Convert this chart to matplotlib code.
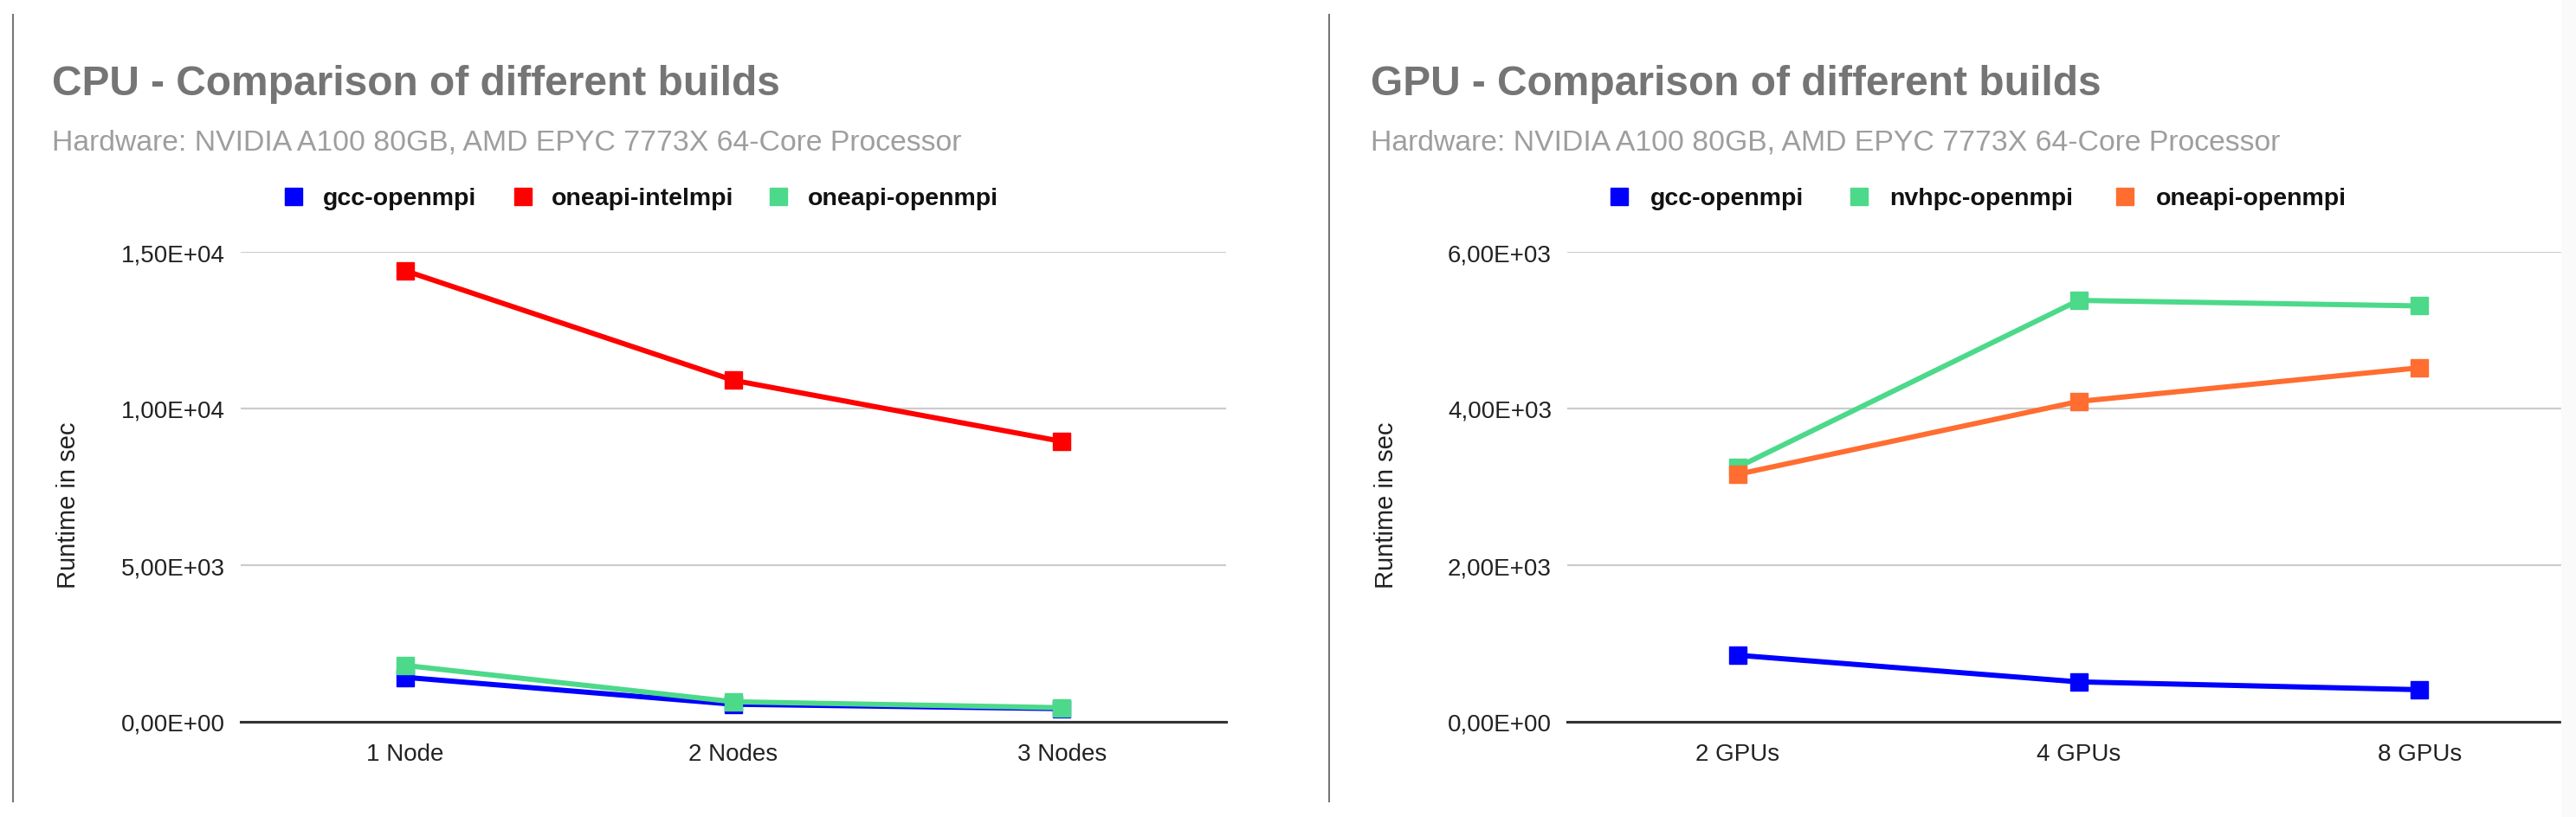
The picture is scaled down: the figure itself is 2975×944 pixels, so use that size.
import matplotlib
matplotlib.use("Agg")
import matplotlib.pyplot as plt
from matplotlib.patches import Rectangle
from matplotlib.lines import Line2D
from matplotlib.ticker import FuncFormatter

plt.rcParams['font.family'] = ['Liberation Sans', 'DejaVu Sans']

W, H = 2975, 945

# data
cpu_labels = ["1 Node", "2 Nodes", "3 Nodes"]
cpu_names = ["gcc-openmpi", "oneapi-intelmpi", "oneapi-openmpi"]
cpu_gcc = [1420, 560, 420]
cpu_intel = [14400, 10900, 8950]
cpu_oneapi = [1800, 640, 450]
cpu_ticks = [0, 5000, 10000, 15000]

gpu_labels = ["2 GPUs", "4 GPUs", "8 GPUs"]
gpu_names = ["gcc-openmpi", "nvhpc-openmpi", "oneapi-openmpi"]
gpu_gcc = [850, 510, 410]
gpu_nvhpc = [3250, 5380, 5310]
gpu_oneapi = [3160, 4090, 4520]
gpu_ticks = [0, 2000, 4000, 6000]

BLUE = "#0000FF"
RED = "#FF0000"
GREEN = "#4CD98A"
ORANGE = "#FF6D31"


def fx(x):
    return x / W


def fy(y):
    return 1 - y / H


def sci_comma(v, pos):
    return f"{v:.2E}".replace(".", ",")


def panel(fig, x0, x1, xmax, labels, series, colors, ticks, ylab_x):
    ax = fig.add_axes([fx(x0), fy(835), fx(x1 - x0), (835 - 292) / H])
    xs = range(len(labels))
    for vals, c in zip(series, colors):
        ax.plot(xs, vals, color=c, lw=4.3, marker="s", ms=15, mec=c,
                solid_joinstyle="round", clip_on=False, zorder=3)
    ax.set_xlim(-0.5, xmax)
    ax.set_ylim(ticks[0], ticks[-1])
    ax.set_yticks(ticks)
    ax.yaxis.set_major_formatter(FuncFormatter(sci_comma))
    ax.set_xticks(list(xs))
    ax.set_xticklabels(labels)
    ax.tick_params(axis="both", length=0, labelsize=20, colors="#222222")
    ax.tick_params(axis="y", pad=13)
    ax.tick_params(axis="x", pad=17)
    ax.grid(axis="y", color="#CCCCCC", lw=1.6)
    ax.set_axisbelow(True)
    for s in ["top", "right", "left"]:
        ax.spines[s].set_visible(False)
    ax.spines["bottom"].set_color("#333333")
    ax.spines["bottom"].set_linewidth(2.2)
    ax.spines["bottom"].set_zorder(4)
    fig.text(fx(ylab_x), fy(584), "Runtime in sec", rotation=90, fontsize=21,
             ha="center", va="center", color="#222222")
    return ax


fig = plt.figure(figsize=(W / 100, H / 100), dpi=100)

panel(fig, 278, 1416, 2.5, cpu_labels, [cpu_gcc, cpu_intel, cpu_oneapi],
      [BLUE, RED, GREEN], cpu_ticks, 79)
panel(fig, 1810, 2958, 2.416, gpu_labels, [gpu_gcc, gpu_nvhpc, gpu_oneapi],
      [BLUE, GREEN, ORANGE], gpu_ticks, 1601)

sub = "Hardware: NVIDIA A100 80GB, AMD EPYC 7773X 64-Core Processor"
for tx, t in [(60, "CPU - Comparison of different builds"),
              (1583, "GPU - Comparison of different builds")]:
    fig.text(fx(tx), fy(110), t, fontsize=34.5, fontweight="bold",
             color="#757575", ha="left", va="baseline")
    fig.text(fx(tx), fy(173), sub, fontsize=24.3, color="#9E9E9E",
             ha="left", va="baseline")

# legends
legend_items = [
    (329, 373, cpu_names[0], BLUE), (594, 637, cpu_names[1], RED),
    (889, 933, cpu_names[2], GREEN),
    (1860, 1906, gpu_names[0], BLUE), (2137, 2182, gpu_names[1], GREEN),
    (2444, 2490, gpu_names[2], ORANGE),
]
for sx, tx, name, c in legend_items:
    fig.patches.append(Rectangle((fx(sx), fy(238)), 20 / W, 20 / H,
                                 transform=fig.transFigure, color=c))
    fig.text(fx(tx), fy(237), name, fontsize=20.5, fontweight="bold",
             color="#111111", ha="left", va="baseline")

# panel separators
for sx in [15, 1535]:
    fig.add_artist(Line2D([fx(sx), fx(sx)], [fy(18), fy(927)],
                          transform=fig.transFigure, color="#777777", lw=1.5))

# light strip at the right edge
fig.patches.append(Rectangle((fx(2958), 0), 17 / W, 1, transform=fig.transFigure,
                             color="#FAFAFA", zorder=10))

fig.savefig("out.png", dpi=100)
plt.close(fig)
